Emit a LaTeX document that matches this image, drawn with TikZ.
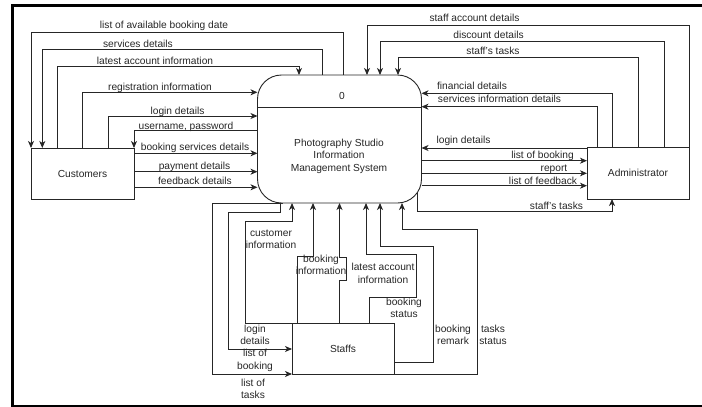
\documentclass[tikz,border=0pt]{standalone}
\usepackage{fontspec}
\setmainfont{Liberation Sans}
\usetikzlibrary{arrows.meta}
\pgfdeclarelayer{bg}
\pgfsetlayers{bg,main}
\newcommand\dfdfont{\fontsize{10.2pt}{12.5pt}\selectfont}
\begin{document}
\begin{tikzpicture}[x=1pt,y=-1pt,
  every node/.style={font=\dfdfont, text=black!85},
  entity/.style={draw=black!85, line width=0.9pt, fill=white, rectangle, inner sep=0pt, outer sep=0pt},
  proc/.style={draw=black!85, line width=0.9pt, fill=white, rectangle, rounded corners=24pt, inner sep=0pt, outer sep=0pt, minimum width=164pt, minimum height=128pt},
  flow/.style={draw=black!85, line width=0.9pt, -{Stealth[length=7pt,width=6pt,inset=2pt]}},
  divline/.style={draw=black!85, line width=0.9pt},
  lab/.style={inner sep=0pt, anchor=base},
  labtwo/.style={inner sep=0pt, align=center},
  frame/.style={draw=black, line width=2.6pt}
]
\useasboundingbox (0,0) rectangle (702,407);
\clip (0,0) rectangle (702,407);

% outer frame
\draw[frame] (720,5.5) -- (12.2,5.5) -- (12.2,405.8) -- (720,405.8);

% nodes
\node[proc] (sys) at (339.5,139) {};
\draw[divline] (sys.west |- 0,107) -- (sys.east |- 0,107);
\node (sysid) at (342,96) {0};
\node[align=center] (systxt) at (339,156) {Photography Studio\\Information\\Management System};
\node[entity, minimum width=103pt, minimum height=51pt] (cust) at (82.5,173.5) {Customers};
\node[entity, minimum width=102pt, minimum height=52pt] (admin) at (638,173) {Administrator};
\node[entity, minimum width=102pt, minimum height=51pt] (staff) at (343,348.5) {Staffs};
\coordinate (tstart) at (417,188);

\begin{pgfonlayer}{bg}
% customers
\draw[flow] (sys.north -| 343,0) |- (31,32.3) -- (cust.north west);
\draw[flow] (sys.north -| 322,0) |- (42.3,49.3) -- (cust.north -| 42.3,0);
\draw[flow] (cust.north -| 57.3,0) |- (299,66) -- (sys.north -| 299,0);
\draw[flow] (cust.north -| 82.3,0) |- (sys.west |- 0,92.3);
\draw[flow] (cust.north -| 108.3,0) |- (sys.west |- 0,116);
\draw[flow] (sys.west |- 0,130.7) -| (cust.north east);
\draw[flow] (cust.east |- 0,153.3) -- (sys.west |- 0,153.3);
\draw[flow] (cust.east |- 0,171.7) -- (sys.west |- 0,171.7);
\draw[flow] (cust.east |- 0,187.3) -- (sys.west |- 0,187.3);
% administrator
\draw[flow] (admin.north east) |- (367,25) -- (sys.north -| 367,0);
\draw[flow] (admin.north -| 664,0) |- (380,41) -- (sys.north -| 380,0);
\draw[flow] (admin.north -| 638,0) |- (398,57) -- (sys.north -| 398,0);
\draw[flow] (admin.north -| 612,0) |- (sys.east |- 0,93.3);
\draw[flow] (admin.north -| 597,0) |- (sys.east |- 0,106.7);
\draw[flow] (admin.west |- 0,148) -- (sys.east |- 0,148);
\draw[flow] (sys.east |- 0,160.7) -- (admin.west |- 0,160.7);
\draw[flow] (sys.east |- 0,173.3) -- (admin.west |- 0,173.3);
\draw[flow] (sys.east |- 0,185.7) -- (admin.west |- 0,185.7);
\draw[flow] (tstart) |- (612,211) -- (admin.south -| 612,0);
% staffs
\draw[flow] (sys.south -| 283,0) -| (212,374) -- (staff.south west);
\draw[flow] (sys.south -| 280,0) |- (228,212) |- (staff.west |- 0,349);
\draw[flow] (staff.north west) -| (245,221) -| (sys.south -| 292,0);
\draw[flow] (staff.north -| 297,0) |- (313,256) -- (sys.south -| 313,0);
\draw[flow] (staff.north -| 339.5,0) -- (339.5,280) -- (346,280) -- (346,257) -- (339.5,257) -- (sys.south -| 339.5,0);
\draw[flow] (staff.north -| 369,0) |- (416,297) |- (366,254) -- (sys.south -| 366,0);
\draw[flow] (staff.east |- 0,362) -| (433,246) -| (sys.south -| 380,0);
\draw[flow] (staff.south east) -| (477,229) -| (sys.south -| 402,0);
\end{pgfonlayer}

% labels: customers
\node[lab] (lc1) at (164,28.5) {list of available booking date};
\node[lab] (lc2) at (138,47.5) {services details};
\node[lab] (lc3) at (155,64.5) {latest account information};
\node[lab] (lc4) at (160,90.5) {registration information};
\node[lab] (lc5) at (177.5,114.5) {login details};
\node[lab] (lc6) at (186,129.3) {username, password};
\node[lab] (lc7) at (195,150.8) {booking services details};
\node[lab] (lc8) at (194.5,169.5) {payment details};
\node[lab] (lc9) at (195,184.8) {feedback details};
% labels: administrator
\node[lab] (la1) at (474.5,21.5) {staff account details};
\node[lab] (la2) at (488.5,38.5) {discount details};
\node[lab] (la3) at (493,54.5) {staff's tasks};
\node[lab] (la4) at (472,89.5) {financial details};
\node[lab] (la5) at (499.5,102.8) {services information details};
\node[lab] (la6) at (463.5,143.5) {login details};
\node[lab] (la7) at (542.5,158.5) {list of booking};
\node[lab] (la8) at (554,171) {report};
\node[lab] (la9) at (543,184) {list of feedback};
\node[lab] (la10) at (556.5,209) {staff's tasks};
% labels: staffs
\node[labtwo] (ls1) at (271,239) {customer\\information};
\node[labtwo] (ls2) at (321,265) {booking\\information};
\node[labtwo] (ls3) at (383,273.5) {latest account\\information};
\node[labtwo] (ls4) at (404,308) {booking\\status};
\node[labtwo] (ls5) at (453,335) {booking\\remark};
\node[labtwo] (ls6) at (493,335) {tasks\\status};
\node[labtwo] (ls7) at (255,335) {login\\details};
\node[labtwo] (ls8) at (255,360.5) {list of\\booking};
\node[labtwo] (ls9) at (253,389) {list of\\tasks};
\end{tikzpicture}
\end{document}
